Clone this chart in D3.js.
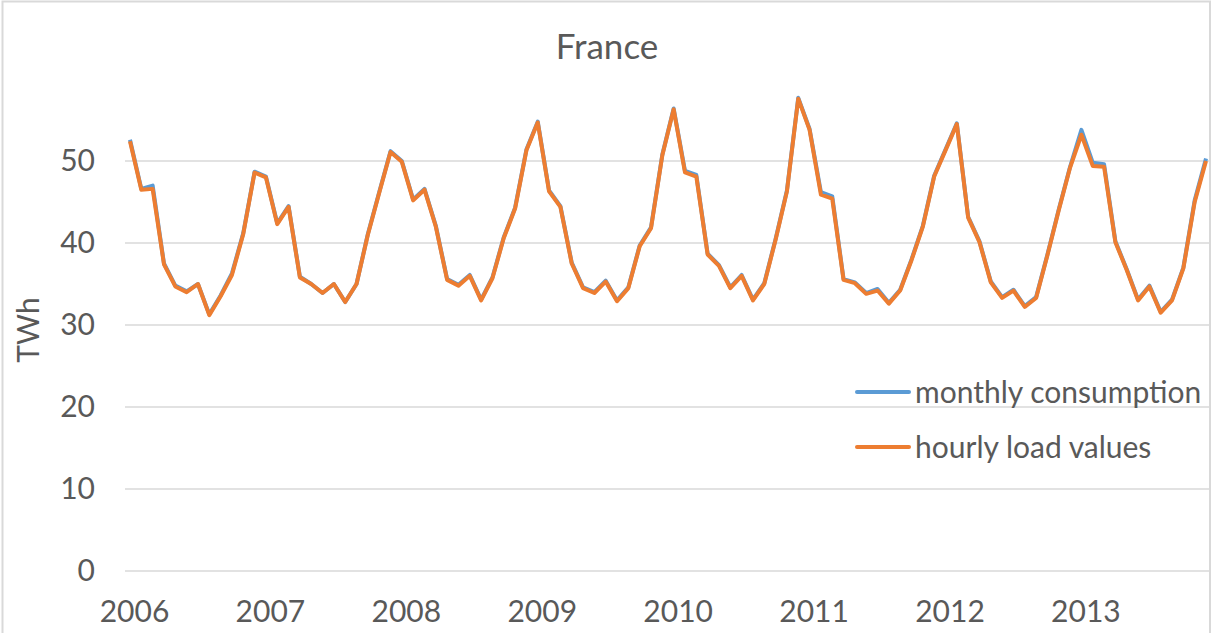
<!DOCTYPE html>
<html>
<head>
<meta charset="utf-8">
<script src="https://cdn.jsdelivr.net/npm/d3@7"></script>
<style>
  body { margin: 0; background: #fff; }
  text { font-family: Lato, "Open Sans", sans-serif; fill: #595959; }
</style>
</head>
<body>
<div id="chart"></div>
<script>
const WIDTH = 1212
const HEIGHT = 633

const TITLE = "France"
const Y_TITLE = "TWh"
const YEARS = ['2006', '2007', '2008', '2009', '2010', '2011', '2012', '2013']
const Y_TICKS = [0, 10, 20, 30, 40, 50]
const SERIES_NAMES = ['monthly consumption', 'hourly load values']

//Monthly values Jan 2006 -> Dec 2013
const monthlyConsumption = [
  52.6, 46.6, 47.0, 37.5, 34.8, 34.1, 35.0, 31.3, 33.6, 36.3, 41.2, 48.7,
  48.1, 42.4, 44.5, 35.9, 35.0, 33.9, 35.0, 32.8, 35.0, 41.1, 46.2, 51.2,
  50.0, 45.3, 46.6, 42.1, 35.6, 34.9, 36.1, 33.1, 35.8, 40.7, 44.3, 51.4,
  54.8, 46.4, 44.5, 37.6, 34.6, 34.0, 35.4, 33.0, 34.6, 39.7, 41.9, 50.8,
  56.4, 48.8, 48.3, 38.7, 37.3, 34.6, 36.1, 33.1, 35.1, 40.5, 46.4, 57.7,
  53.9, 46.2, 45.7, 35.6, 35.2, 33.9, 34.4, 32.7, 34.3, 38.0, 42.1, 48.2,
  51.4, 54.6, 43.2, 40.2, 35.3, 33.4, 34.3, 32.3, 33.4, 38.6, 44.1, 49.3,
  53.8, 49.8, 49.6, 40.2, 36.8, 33.1, 34.8, 31.6, 33.1, 37.0, 45.2, 50.3
]

const hourlyLoad = [
  52.4, 46.5, 46.6, 37.4, 34.7, 34.0, 35.0, 31.2, 33.5, 36.1, 41.1, 48.6,
  48.0, 42.3, 44.4, 35.8, 35.0, 33.9, 35.0, 32.8, 35.0, 41.0, 46.1, 51.1,
  49.9, 45.2, 46.5, 42.0, 35.5, 34.8, 36.0, 33.0, 35.7, 40.6, 44.2, 51.3,
  54.7, 46.3, 44.4, 37.5, 34.5, 33.9, 35.3, 32.9, 34.5, 39.6, 41.8, 50.7,
  56.3, 48.6, 48.1, 38.6, 37.2, 34.5, 36.0, 33.0, 35.0, 40.4, 46.3, 57.6,
  53.8, 45.9, 45.4, 35.5, 35.1, 33.8, 34.2, 32.6, 34.2, 37.9, 42.0, 48.1,
  51.3, 54.5, 43.1, 40.1, 35.2, 33.3, 34.2, 32.2, 33.3, 38.5, 44.0, 49.2,
  53.2, 49.4, 49.3, 40.1, 36.7, 33.0, 34.7, 31.5, 33.0, 36.9, 45.0, 50.0
]

const COLORS = ['#5b9bd5', '#ed7d31']
const LINE_WIDTH = 4
const TEXT_SIZE = 30

var svg = d3.select('#chart')
  .append('svg')
  .attr('width', WIDTH)
  .attr('height', HEIGHT)

//Chart border (bottom edge falls outside the picture)
svg.append('rect')
  .attr('x', 2.5)
  .attr('y', 1.5)
  .attr('width', 1207.5)
  .attr('height', 660)
  .attr('fill', '#fff')
  .attr('stroke', '#d9d9d9')
  .attr('stroke-width', 2)

var x = d3.scaleLinear()
  .domain([0, hourlyLoad.length - 1])
  .range([130, 1206])

var y = d3.scaleLinear()
  .domain([0, 60])
  .range([571, 79])

//Gridlines
svg.append('g')
  .selectAll('line')
  .data(Y_TICKS)
  .join('line')
    .attr('x1', 125)
    .attr('x2', 1209)
    .attr('y1', d => y(d))
    .attr('y2', d => y(d))
    .attr('stroke', '#d9d9d9')
    .attr('stroke-width', 1.5)

//Y axis labels
var yAxis = svg.append('g')
  .attr('transform', 'translate(95,0)')
  .call(d3.axisLeft(y).tickValues(Y_TICKS).tickSize(0).tickPadding(0))
yAxis.select('.domain').remove()
yAxis.selectAll('text')
  .style('font-size', TEXT_SIZE + 'px')
  .attr('fill', '#595959')

//X axis labels, one per January
var xAxis = svg.append('g')
  .attr('transform', 'translate(4,601)')
  .call(d3.axisBottom(x)
    .tickValues(YEARS.map((yr, i) => i * 12))
    .tickFormat((d, i) => YEARS[i])
    .tickSize(0)
    .tickPadding(0))
xAxis.select('.domain').remove()
xAxis.selectAll('text')
  .style('font-size', TEXT_SIZE + 'px')
  .attr('fill', '#595959')

//Title
svg.append('text')
  .attr('x', 607)
  .attr('y', 59)
  .attr('text-anchor', 'middle')
  .style('font-size', '35px')
  .text(TITLE)

//Y axis title
svg.append('text')
  .attr('transform', 'translate(39,330)rotate(-90)')
  .attr('text-anchor', 'middle')
  .style('font-size', TEXT_SIZE + 'px')
  .text(Y_TITLE)

var line = d3.line()
  .x((d, i) => x(i))
  .y(d => y(d))

//Blue drawn first, orange on top
;[monthlyConsumption, hourlyLoad].forEach((series, i) => {
  svg.append('path')
    .datum(series)
    .attr('fill', 'none')
    .attr('stroke', COLORS[i])
    .attr('stroke-width', LINE_WIDTH)
    .attr('stroke-linejoin', 'round')
    .attr('d', line)
})

//Legend
var legend = svg.append('g')
  .selectAll('g')
  .data(SERIES_NAMES)
  .join('g')
    .attr('transform', (d, i) => 'translate(857,' + (392 + i * 55) + ')')

legend.append('line')
  .attr('x1', 0)
  .attr('x2', 52)
  .attr('stroke', (d, i) => COLORS[i])
  .attr('stroke-width', LINE_WIDTH)
  .attr('stroke-linecap', 'round')

legend.append('text')
  .attr('x', 58)
  .attr('dy', '0.35em')
  .style('font-size', TEXT_SIZE + 'px')
  .text(d => d)
</script>
</body>
</html>
